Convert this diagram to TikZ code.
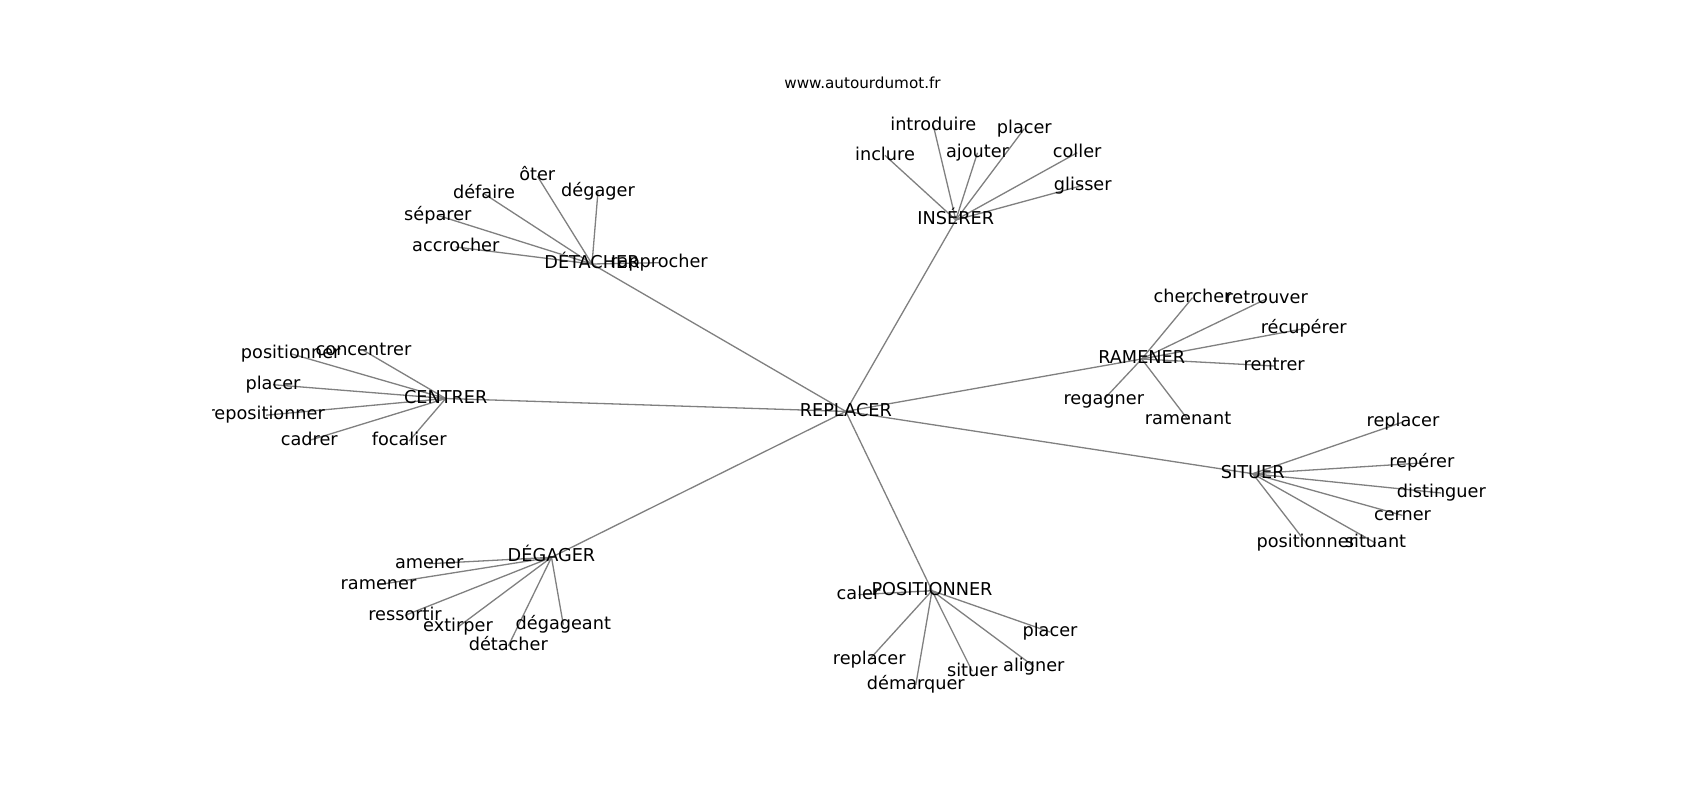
\documentclass[tikz,border=0pt]{standalone}
\usepackage{fontspec}
\setmainfont{DejaVu Sans}
\pgfdeclarelayer{bg}
\pgfsetlayers{bg,main}
\begin{document}
\begin{tikzpicture}[x=1pt,y=-1pt,
  lbl/.style={inner sep=0pt, text height=13.45pt, text depth=4.18pt, anchor=center,
    font=\fontsize{17.7}{20}\selectfont, text=black},
  edge/.style={draw=gray, line width=1.3pt},
  ttl/.style={inner sep=0pt, anchor=base, font=\fontsize{15.2}{18}\selectfont, text=black}]
\useasboundingbox (0,0) rectangle (1700,800);
\node[ttl] (title) at (862.5,88.3) {www.autourdumot.fr};
\begin{scope}
\clip (212.5,96) rectangle (1530,712);
% hubs
\node[lbl] (replacer) at (845.8,411.4) {REPLACER};
\node[lbl] (detacher) at (592,264) {DÉTACHER};
\node[lbl] (inserer) at (955.8,220) {INSÉRER};
\node[lbl] (centrer) at (445.7,398.5) {CENTRER};
\node[lbl] (ramener) at (1141.7,359) {RAMENER};
\node[lbl] (situer) at (1252.7,473.7) {SITUER};
\node[lbl] (degager) at (551.5,557.3) {DÉGAGER};
\node[lbl] (positionner) at (932,590.7) {POSITIONNER};
% DETACHER leaves
\node[lbl] (d1) at (659,262.7) {rapprocher};
\node[lbl] (d2) at (455.8,247) {accrocher};
\node[lbl] (d3) at (437.8,215.4) {séparer};
\node[lbl] (d4) at (484,193.7) {défaire};
\node[lbl] (d5) at (537.3,176) {ôter};
\node[lbl] (d6) at (598,191.4) {dégager};
% INSERER leaves
\node[lbl] (i1) at (885,155.4) {inclure};
\node[lbl] (i2) at (933.3,125.4) {introduire};
\node[lbl] (i3) at (977.5,152.7) {ajouter};
\node[lbl] (i4) at (1024.3,128.7) {placer};
\node[lbl] (i5) at (1077.2,152.7) {coller};
\node[lbl] (i6) at (1082.8,185.4) {glisser};
% CENTRER leaves
\node[lbl] (c1) at (290.7,353.7) {positionner};
\node[lbl] (c2) at (363.5,350.4) {concentrer};
\node[lbl] (c3) at (273,384.7) {placer};
\node[lbl] (c4) at (266.2,415.2) {repositionner};
\node[lbl] (c5) at (309.3,440.4) {cadrer};
\node[lbl] (c6) at (409.2,441) {focaliser};
% RAMENER leaves
\node[lbl] (r1) at (1192.5,297.7) {chercher};
\node[lbl] (r2) at (1266.7,298.7) {retrouver};
\node[lbl] (r3) at (1303.7,328.7) {récupérer};
\node[lbl] (r4) at (1274.2,366) {rentrer};
\node[lbl] (r5) at (1103.8,399.4) {regagner};
\node[lbl] (r6) at (1188,419.7) {ramenant};
% SITUER leaves
\node[lbl] (s1) at (1403,422) {replacer};
\node[lbl] (s2) at (1421.8,463) {repérer};
\node[lbl] (s3) at (1441.3,493) {distinguer};
\node[lbl] (s4) at (1402.5,515.4) {cerner};
\node[lbl] (s5) at (1306.3,543) {positionner};
\node[lbl] (s6) at (1375.5,543) {situant};
% DEGAGER leaves
\node[lbl] (g1) at (429.2,563.7) {amener};
\node[lbl] (g2) at (378.5,584.7) {ramener};
\node[lbl] (g3) at (405,615.4) {ressortir};
\node[lbl] (g4) at (458,627) {extirper};
\node[lbl] (g5) at (563.3,624.7) {dégageant};
\node[lbl] (g6) at (508.3,646) {détacher};
% POSITIONNER leaves
\node[lbl] (p1) at (858.5,594.7) {caler};
\node[lbl] (p2) at (1050,632) {placer};
\node[lbl] (p3) at (869.2,659.7) {replacer};
\node[lbl] (p4) at (915.8,684.7) {démarquer};
\node[lbl] (p5) at (972.3,671.4) {situer};
\node[lbl] (p6) at (1033.8,666.4) {aligner};
\end{scope}
\begin{pgfonlayer}{bg}
\fill[white] (0,0) rectangle (1700,800);
\foreach \h in {detacher,inserer,centrer,ramener,situer,degager,positionner}
  \draw[edge] (replacer.center) -- (\h.center);
\foreach \l in {d1,d2,d3,d4,d5,d6} \draw[edge] (detacher.center) -- (\l.center);
\foreach \l in {i1,i2,i3,i4,i5,i6} \draw[edge] (inserer.center) -- (\l.center);
\foreach \l in {c1,c2,c3,c4,c5,c6} \draw[edge] (centrer.center) -- (\l.center);
\foreach \l in {r1,r2,r3,r4,r5,r6} \draw[edge] (ramener.center) -- (\l.center);
\foreach \l in {s1,s2,s3,s4,s5,s6} \draw[edge] (situer.center) -- (\l.center);
\foreach \l in {g1,g2,g3,g4,g5,g6} \draw[edge] (degager.center) -- (\l.center);
\foreach \l in {p1,p2,p3,p4,p5,p6} \draw[edge] (positionner.center) -- (\l.center);
\end{pgfonlayer}
\end{tikzpicture}
\end{document}
